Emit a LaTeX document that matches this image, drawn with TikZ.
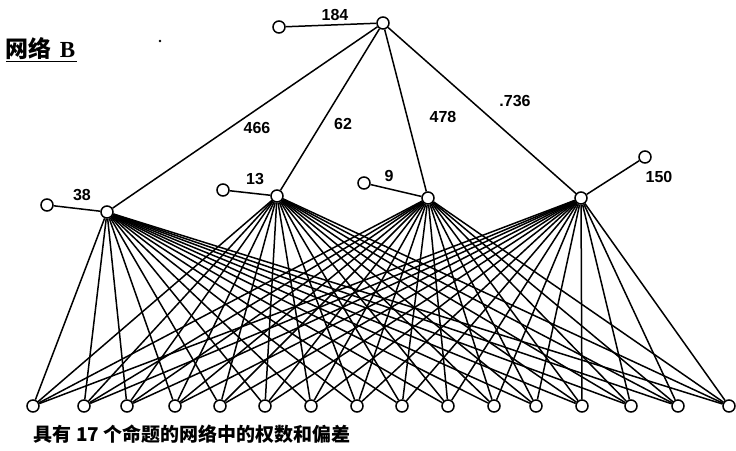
\documentclass[tikz,border=0pt]{standalone}
\usepackage{fontspec}
\setmainfont{Liberation Sans}
\newfontfamily\cjk{Noto Sans CJK SC}
\newfontfamily\latinserif{Liberation Serif}
\usetikzlibrary{positioning}

\begin{document}
\begin{tikzpicture}[x=1pt,y=-1pt,line width=1.5pt,
  unit/.style={draw,circle,fill=white,inner sep=0pt,minimum size=12pt,line width=1.5pt},
  wt/.style={font=\fontsize{16}{17}\selectfont\bfseries,inner sep=0pt},
  cn/.style={font=\cjk\bfseries\fontsize{19}{21}\selectfont,inner sep=0pt,anchor=west}]
  \useasboundingbox (0,0) rectangle (736,450);
  % title
  \node[cn,font=\cjk\bfseries\fontsize{23}{25}\selectfont] (title) at (5,50) {\underline{网络\hspace{8pt}{\latinserif B}\hspace{2pt}}};
  \fill (160,41) circle (1.4pt);
  % output unit and its bias
  \node[unit] (out) at (383,23) {};
  \node[unit] (bout) at (279,27) {};
  % hidden units
  \foreach \h/\xx/\yy in {1/107/212,2/277/196,3/428/198,4/581/198}
    \node[unit] (h\h) at (\xx,\yy) {};
  % hidden biases
  \foreach \h/\xx/\yy in {1/47/205,2/223/190,3/364/183,4/645/157}
    \node[unit] (b\h) at (\xx,\yy) {};
  % input units
  \foreach \i/\xx in {1/33,2/84,3/127,4/175,5/220,6/265,7/311,8/357,9/402,10/448,11/494,12/536,13/582,14/631,15/678,16/729}
    \node[unit] (in\i) at (\xx,406) {};
  % connections
  \draw (bout) -- (out);
  \foreach \h in {1,...,4}{
    \draw (out) -- (h\h);
    \draw (b\h) -- (h\h);
    \foreach \i in {1,...,16}
      \draw (h\h) -- (in\i);
  }
  % weights and biases
  \node[wt] (l184) at (335,15) {184};
  \node[wt] (l466) at (257,128) {466};
  \node[wt] (l62) at (343,124) {62};
  \node[wt] (l478) at (443,117) {478};
  \node[wt] (l736) at (515,101) {.736};
  \node[wt] (l38) at (82,195) {38};
  \node[wt] (l13) at (255,179) {13};
  \node[wt] (l9) at (389,176) {9};
  \node[wt] (l150) at (659,177) {150};
  % caption
  \node[cn] (cap) at (33,434) {具有 17 个命题的网络中的权数和偏差};
\end{tikzpicture}
\end{document}
